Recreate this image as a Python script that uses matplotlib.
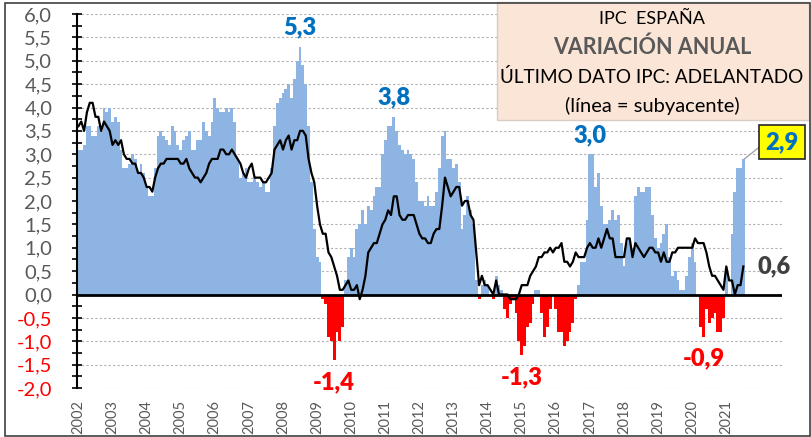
#!/usr/bin/env python3
# IPC Espana: variacion anual mensual (barras) y subyacente (linea), 2002-2021.

import numpy as np
import matplotlib
matplotlib.use("Agg")
import matplotlib.pyplot as plt
from matplotlib.patches import Rectangle

plt.rcParams["font.family"] = ["Lato", "DejaVu Sans"]

# IPC general, tasa anual (%), enero 2002 - julio 2021 (ultimo dato adelantado)
ipc = [
    3.1, 3.1, 3.2, 3.6, 3.6, 3.4, 3.4, 3.6, 3.5, 4.0, 3.9, 4.0,          # 2002
    3.7, 3.8, 3.7, 3.1, 2.7, 2.7, 2.8, 3.0, 2.9, 2.6, 2.8, 2.6,          # 2003
    2.3, 2.1, 2.1, 2.7, 3.4, 3.5, 3.4, 3.3, 3.2, 3.6, 3.5, 3.2,          # 2004
    3.1, 3.3, 3.4, 3.5, 3.1, 3.1, 3.3, 3.3, 3.7, 3.5, 3.4, 3.7,          # 2005
    4.2, 4.0, 3.9, 3.9, 4.0, 3.9, 4.0, 3.7, 2.9, 2.5, 2.6, 2.7,          # 2006
    2.4, 2.4, 2.5, 2.4, 2.3, 2.4, 2.2, 2.2, 2.7, 3.6, 4.1, 4.2,          # 2007
    4.3, 4.4, 4.5, 4.2, 4.6, 5.0, 5.3, 4.9, 4.5, 3.6, 2.4, 1.4,          # 2008
    0.8, 0.7, -0.1, -0.2, -0.9, -1.0, -1.4, -0.8, -1.0, -0.7, 0.3, 0.8,  # 2009
    1.0, 0.8, 1.4, 1.5, 1.8, 1.5, 1.9, 1.8, 2.1, 2.3, 2.3, 3.0,          # 2010
    3.3, 3.6, 3.6, 3.8, 3.5, 3.2, 3.1, 3.0, 3.1, 3.0, 2.9, 2.4,          # 2011
    2.0, 2.0, 1.9, 2.1, 1.9, 1.9, 2.2, 2.7, 3.4, 3.5, 2.9, 2.9,          # 2012
    2.7, 2.8, 2.4, 1.4, 1.7, 2.1, 1.8, 1.5, 0.3, -0.1, 0.2, 0.3,         # 2013
    0.2, 0.0, -0.1, 0.4, 0.2, 0.1, -0.3, -0.5, -0.2, -0.1, -0.4, -1.0,   # 2014
    -1.3, -1.1, -0.7, -0.6, -0.2, 0.1, 0.1, -0.4, -0.9, -0.7, -0.3, 0.0, # 2015
    -0.3, -0.8, -0.8, -1.1, -1.0, -0.8, -0.6, -0.1, 0.2, 0.7, 0.7, 1.6,  # 2016
    3.0, 3.0, 2.3, 2.6, 1.9, 1.5, 1.5, 1.6, 1.8, 1.6, 1.7, 1.1,          # 2017
    0.6, 1.1, 1.2, 1.0, 2.1, 2.3, 2.2, 2.2, 2.3, 2.3, 1.7, 1.2,          # 2018
    1.0, 1.1, 1.3, 1.5, 0.8, 0.4, 0.5, 0.3, 0.1, 0.1, 0.4, 0.8,          # 2019
    1.1, 0.7, 0.0, -0.7, -0.9, -0.3, -0.6, -0.5, -0.4, -0.8, -0.8, -0.5, # 2020
    0.5, 0.0, 1.3, 2.2, 2.7, 2.7, 2.9,                                   # 2021
]

# Inflacion subyacente, tasa anual (%)
subyacente = [
    3.6, 3.7, 3.5, 3.9, 4.1, 4.1, 3.8, 3.8, 3.5, 3.7, 3.6, 3.5,          # 2002
    3.2, 3.3, 3.2, 3.3, 3.0, 2.9, 2.9, 2.8, 2.8, 2.6, 2.6, 2.5,          # 2003
    2.3, 2.3, 2.2, 2.5, 2.7, 2.8, 2.8, 2.9, 2.9, 2.9, 2.9, 2.9,          # 2004
    2.8, 2.8, 2.9, 2.7, 2.6, 2.5, 2.5, 2.4, 2.5, 2.6, 2.8, 2.9,          # 2005
    2.9, 2.9, 3.1, 3.1, 3.0, 3.0, 3.1, 3.0, 2.9, 2.8, 2.6, 2.5,          # 2006
    2.7, 2.8, 2.5, 2.5, 2.5, 2.4, 2.4, 2.5, 2.6, 3.1, 3.2, 3.3,          # 2007
    3.1, 3.3, 3.4, 3.1, 3.3, 3.3, 3.5, 3.5, 3.4, 2.9, 2.6, 2.4,          # 2008
    1.9, 1.5, 1.3, 1.3, 0.9, 0.8, 0.6, 0.4, 0.1, 0.1, 0.2, 0.3,          # 2009
    0.1, 0.1, 0.2, -0.1, 0.1, 0.4, 0.9, 1.0, 1.1, 1.1, 1.3, 1.5,         # 2010
    1.6, 1.8, 1.7, 2.1, 2.1, 1.7, 1.6, 1.6, 1.7, 1.7, 1.7, 1.5,          # 2011
    1.3, 1.2, 1.2, 1.1, 1.1, 1.3, 1.4, 1.4, 1.9, 2.5, 2.3, 2.1,          # 2012
    2.2, 2.3, 2.3, 1.9, 2.0, 2.0, 1.7, 1.6, 0.9, 0.2, 0.4, 0.2,          # 2013
    0.2, 0.1, 0.0, 0.3, 0.0, 0.0, 0.0, 0.0, -0.1, -0.1, -0.1, 0.0,       # 2014
    0.2, 0.2, 0.2, 0.4, 0.5, 0.6, 0.8, 0.8, 0.9, 0.9, 1.0, 0.9,          # 2015
    1.0, 1.0, 1.1, 0.7, 0.7, 0.6, 0.7, 0.9, 0.8, 0.8, 0.8, 1.0,          # 2016
    1.1, 1.0, 1.0, 1.2, 1.0, 1.2, 1.4, 1.2, 1.2, 0.8, 0.8, 0.8,          # 2017
    0.8, 1.2, 1.2, 0.8, 1.1, 1.0, 0.9, 0.8, 0.9, 1.0, 1.0, 0.9,          # 2018
    0.9, 0.7, 0.9, 0.7, 0.7, 0.9, 0.9, 1.0, 1.0, 1.0, 1.0, 1.0,          # 2019
    1.0, 1.2, 1.1, 1.1, 1.1, 0.9, 0.6, 0.4, 0.4, 0.3, 0.2, 0.1,          # 2020
    0.6, 0.3, 0.3, 0.0, 0.2, 0.2, 0.6,                                   # 2021
]

anios = [str(a) for a in range(2002, 2022)]

# etiquetas de maximos/minimos: (anio, mes)
picos = [(2008, 7), (2011, 4), (2017, 1)]
valles = [(2009, 7), (2015, 1), (2020, 5)]

AZUL_BARRA = "#8DB4E2"
ROJO = "#FF0000"
AZUL_TXT = "#0070C0"
GRIS = "#595959"
PESO = "heavy"
TAM = 17


def coma(v):
    return f"{v:.1f}".replace(".", ",")


def idx(anio, mes):
    return (anio - 2002) * 12 + mes - 1


W, H = 812, 437
fig = plt.figure(figsize=(W / 100, H / 100), dpi=100)
ax = fig.add_axes([77 / W, 1 - 388 / H, 705 / W, 374 / H])

meses = np.arange(len(ipc))
colores = [AZUL_BARRA if v >= 0 else ROJO for v in ipc]
ax.bar(meses, ipc, width=1.0, color=colores, zorder=2)
ax.plot(meses, subyacente, color="black", lw=1.6, zorder=3)
ax.axhline(0, color="black", lw=2, zorder=4)

ax.set_xlim(-0.5, 247.6)
ax.set_ylim(-2, 6)

yt = np.arange(-2, 6.01, 0.5)
ax.set_yticks(yt)
ax.set_yticklabels([coma(v) for v in yt], fontsize=14.5)
for lab, v in zip(ax.get_yticklabels(), yt):
    lab.set_color(ROJO if v < 0 else GRIS)
ax.set_yticks(np.arange(-2, 6.01, 0.25), minor=True)
ax.tick_params(axis="y", which="both", direction="inout", length=7.5,
               width=1.2, color="black", pad=14)

ax.set_xticks([12 * i for i in range(len(anios))])
ax.set_xticklabels(anios, rotation=90, fontsize=10.5, color=GRIS)
ax.tick_params(axis="x", length=0, pad=8.5)

for s in ["top", "right", "bottom"]:
    ax.spines[s].set_visible(False)
ax.spines["left"].set_linewidth(1.5)
ax.grid(axis="y", which="major", linestyle=(0, (2, 2)), color="#B0B0B0",
        lw=0.8, zorder=0)
ax.set_axisbelow(True)

for a, m in picos:
    i = idx(a, m)
    ax.annotate(coma(ipc[i]), (i, ipc[i]), xytext=(0, 6), textcoords="offset points",
                ha="center", va="bottom", fontsize=TAM, weight=PESO, color=AZUL_TXT)
for a, m in valles:
    i = idx(a, m)
    ax.annotate(coma(ipc[i]), (i, ipc[i]), xytext=(0, -8), textcoords="offset points",
                ha="center", va="top", fontsize=TAM, weight=PESO, color=ROJO)

ult = len(ipc) - 1
ax.annotate(coma(subyacente[ult]), (ult, subyacente[ult]), xytext=(10, 0),
            textcoords="offset points", ha="left", va="center", fontsize=TAM,
            weight=PESO, color="#404040")
ax.annotate(coma(ipc[ult]), (ult + 0.4, ipc[ult]), xytext=(27, 12),
            textcoords="offset points", ha="center", va="center", fontsize=TAM,
            weight=PESO, color=AZUL_TXT, annotation_clip=False,
            bbox=dict(boxstyle="square,pad=0.25", fc="#FFFF00", ec="#262626", lw=1.2),
            arrowprops=dict(arrowstyle="-", color="#A6A6A6", lw=1,
                            shrinkA=0, shrinkB=0, relpos=(0, 0.5)))

# cuadro del titulo
fig.patches.append(Rectangle((497 / W, 1 - 120 / H), 312 / W, 118 / H,
                             transform=fig.transFigure, fc="#FBE5D6",
                             ec="#D9CCC3", lw=1, zorder=5))
cx = 652 / W
fig.text(cx, 1 - 19 / H, "IPC  ESPAÑA", ha="center", va="center",
         fontsize=13, color="black", zorder=6)
fig.text(cx, 1 - 47 / H, "VARIACIÓN ANUAL", ha="center", va="center",
         fontsize=15.5, weight="bold", color=GRIS, zorder=6)
fig.text(cx, 1 - 77 / H, "ÚLTIMO DATO IPC: ADELANTADO", ha="center",
         va="center", fontsize=13.6, color="black", zorder=6)
fig.text(cx, 1 - 106 / H, "(línea = subyacente)", ha="center", va="center",
         fontsize=14.5, color="black", zorder=6)

# marco exterior
fig.patches.append(Rectangle((5 / W, 1.5 / H), 805 / W, 433 / H,
                             transform=fig.transFigure, fill=False,
                             ec="#404040", lw=1.2, zorder=7))

fig.savefig("out.png", dpi=100)
